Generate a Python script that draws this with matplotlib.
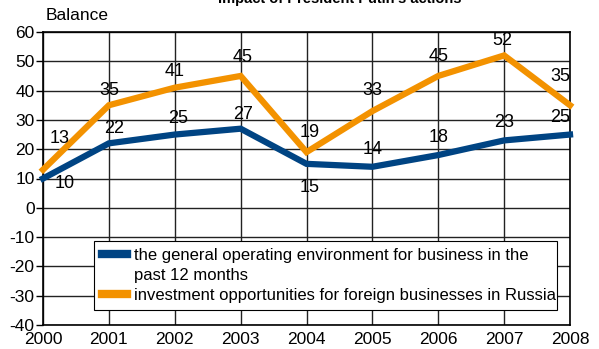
import matplotlib
matplotlib.use("Agg")
import matplotlib.pyplot as plt
from matplotlib.lines import Line2D

# survey balances by year
years = [2000, 2001, 2002, 2003, 2004, 2005, 2006, 2007, 2008]
environment = [10, 22, 25, 27, 15, 14, 18, 23, 25]
investment = [13, 35, 41, 45, 19, 33, 45, 52, 35]
series_names = ["the general operating environment for business in the\npast 12 months",
                "investment opportunities for foreign businesses in Russia"]
title = "Impact of President Putin's actions"

# where each value label sits relative to its point (pixels)
env_offsets = [(22, -5), (5, 15), (3, 16), (2, 14), (3, -24), (0, 17), (0, 18), (0, 18), (-10, 17)]
inv_offsets = [(17, 31), (0, 15), (0, 16), (2, 18), (3, 20), (0, 21), (0, 19), (-2, 15), (-10, 29)]

plt.rcParams["font.family"] = ["Liberation Sans", "DejaVu Sans"]
plt.rcParams["axes.unicode_minus"] = False

BLUE = "#004483"
ORANGE = "#f39200"

fig = plt.figure(figsize=(5.99, 3.49), dpi=100)
ax = fig.add_axes([43 / 599, 24 / 349, 527 / 599, 293 / 349])

l1, = ax.plot(years, environment, color=BLUE, lw=4.5, clip_on=False, zorder=3,
              solid_joinstyle="miter")
l2, = ax.plot(years, investment, color=ORANGE, lw=4.5, clip_on=False, zorder=4,
              solid_joinstyle="miter")

for x, v, off in zip(years, environment, env_offsets):
    ax.annotate(str(v), (x, v), xytext=off, textcoords="offset pixels",
                ha="center", va="center", fontsize=13, zorder=5)
for x, v, off in zip(years, investment, inv_offsets):
    ax.annotate(str(v), (x, v), xytext=off, textcoords="offset pixels",
                ha="center", va="center", fontsize=13, zorder=5)

ax.set_xlim(2000, 2008)
ax.set_ylim(-40, 60)
ax.set_xticks(years)
ax.set_yticks(range(-40, 61, 10))
ax.grid(True, color="#222222", lw=1)
ax.set_axisbelow(True)
ax.tick_params(axis="y", length=5, width=1, pad=1, labelsize=12.5)
ax.tick_params(axis="x", length=0, pad=5, labelsize=12.5)
for s in ax.spines.values():
    s.set_color("black")
    s.set_linewidth(1.2)

fig.text(46 / 599, 1 - 15 / 349, "Balance", fontsize=12.5, va="center", ha="left")
fig.text(340 / 599, 1 - 3 / 349, title, fontsize=10.5, fontweight="bold",
         va="baseline", ha="center")

# first label wraps onto a second row that has no handle of its own
first, second = series_names[0].split("\n")
blank = Line2D([], [], color="none")
leg = ax.legend([l1, blank, l2], [first, second, series_names[1]],
                loc="lower left", bbox_to_anchor=(0.097, 0.051, 0.878, 0.25),
                mode="expand", fontsize=12, frameon=True, fancybox=False,
                handlelength=1.5, handletextpad=0.45, borderpad=0.45,
                labelspacing=0.28, borderaxespad=0)
leg.get_frame().set_edgecolor("black")
leg.get_frame().set_linewidth(0.8)
leg.get_frame().set_alpha(1)
for h in leg.get_lines():
    h.set_linewidth(6)

fig.savefig("out.png", dpi=100)
